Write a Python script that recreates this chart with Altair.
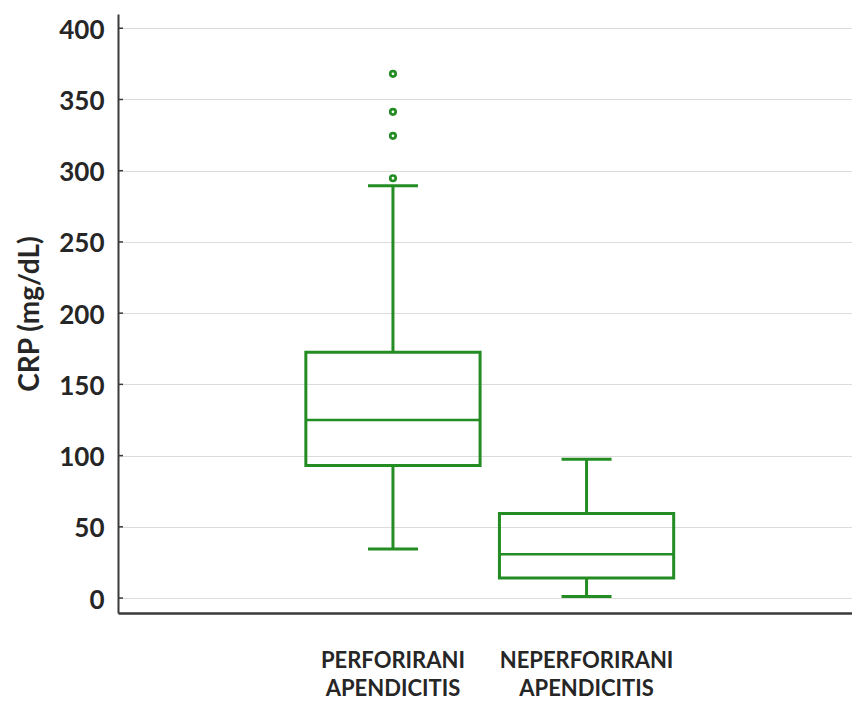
import altair as alt
import pandas as pd

# ---- data ----
groups = ["PERFORIRANI|APENDICITIS", "NEPERFORIRANI|APENDICITIS"]
whisker_low = [34.5, 1.0]
q1 = [93.0, 14.0]
median = [125.0, 30.8]
q3 = [172.5, 59.3]
whisker_high = [289.5, 97.5]
outlier_group = ["PERFORIRANI|APENDICITIS"] * 4
outlier_value = [294.7, 324.5, 341.3, 368.0]
y_ticks = [0, 50, 100, 150, 200, 250, 300, 350, 400]

GREEN = "#238C23"
FONT = "Lato"
TXT = "#262626"

stats = pd.DataFrame({
    "group": groups, "low": whisker_low, "q1": q1, "median": median,
    "q3": q3, "high": whisker_high,
})
outliers = pd.DataFrame({"group": outlier_group, "value": outlier_value})
ticks = pd.DataFrame({"v": y_ticks})

xscale = alt.Scale(domain=groups, paddingInner=0.1, paddingOuter=0.9457, align=0.513)
yscale = alt.Scale(domain=[-10.5, 410], nice=False, zero=False)

xenc = alt.X(
    "group:N", scale=xscale, sort=groups, title=None,
    axis=alt.Axis(
        labelExpr="split(datum.label, '|')", labelAngle=0, ticks=False,
        grid=False, domain=True, domainColor="#3a3a3a", domainWidth=2.5,
        labelFont=FONT, labelFontSize=22, labelFontWeight="bold",
        labelColor=TXT, labelPadding=37, labelLineHeight=28,
        labelBaseline="top",
    ),
)
yaxis = alt.Axis(
    values=y_ticks, title="CRP (mg/dL)", grid=True, gridColor="#dcdcdc",
    gridWidth=1, ticks=False, domain=True, domainColor="#3a3a3a",
    domainWidth=2, labelFont=FONT, labelFontSize=26, labelFontWeight="bold",
    labelColor=TXT, labelPadding=14, labelOffset=2,
    titleFont=FONT, titleFontSize=28, titleFontWeight="bold",
    titleColor=TXT, titlePadding=14,
)

base = alt.Chart(stats)
xc = alt.X("group:N", scale=xscale, sort=groups)

box = base.mark_bar(fill="white", fillOpacity=0, stroke=GREEN, strokeWidth=3).encode(
    x=xenc, y=alt.Y("q1:Q", scale=yscale, axis=yaxis), y2="q3:Q"
)
whisk_lo = base.mark_rule(color=GREEN, strokeWidth=3).encode(
    x=xc, y=alt.Y("low:Q", scale=yscale), y2="q1:Q"
)
whisk_hi = base.mark_rule(color=GREEN, strokeWidth=3).encode(
    x=xc, y=alt.Y("q3:Q", scale=yscale), y2="high:Q"
)
med = base.mark_tick(color=GREEN, size=174, thickness=2.5, orient="horizontal", opacity=1).encode(
    x=xc, y=alt.Y("median:Q", scale=yscale)
)
cap_lo = base.mark_tick(color=GREEN, size=50, thickness=3, orient="horizontal", opacity=1).encode(
    x=xc, y=alt.Y("low:Q", scale=yscale)
)
cap_hi = base.mark_tick(color=GREEN, size=50, thickness=3, orient="horizontal", opacity=1).encode(
    x=xc, y=alt.Y("high:Q", scale=yscale)
)
pts = alt.Chart(outliers).mark_point(
    shape="circle", filled=False, color=GREEN, size=30, strokeWidth=2.7, opacity=1
).encode(
    x=xc, y=alt.Y("value:Q", scale=yscale)
)
tickmarks = alt.Chart(ticks).mark_rule(color="#3a3a3a", strokeWidth=1.5).encode(
    y=alt.Y("v:Q", scale=yscale), x=alt.value(0), x2=alt.value(5)
)

chart = alt.layer(box, whisk_lo, whisk_hi, med, cap_lo, cap_hi, pts, tickmarks).properties(
    width=734, height=599,
    autosize=alt.AutoSizeParams(type="none"),
    padding={"left": 110, "top": 6, "right": 0, "bottom": 89},
    background="white",
).configure_view(stroke=None)

chart.save("out.html", embed_options={"renderer": "svg", "actions": False})
